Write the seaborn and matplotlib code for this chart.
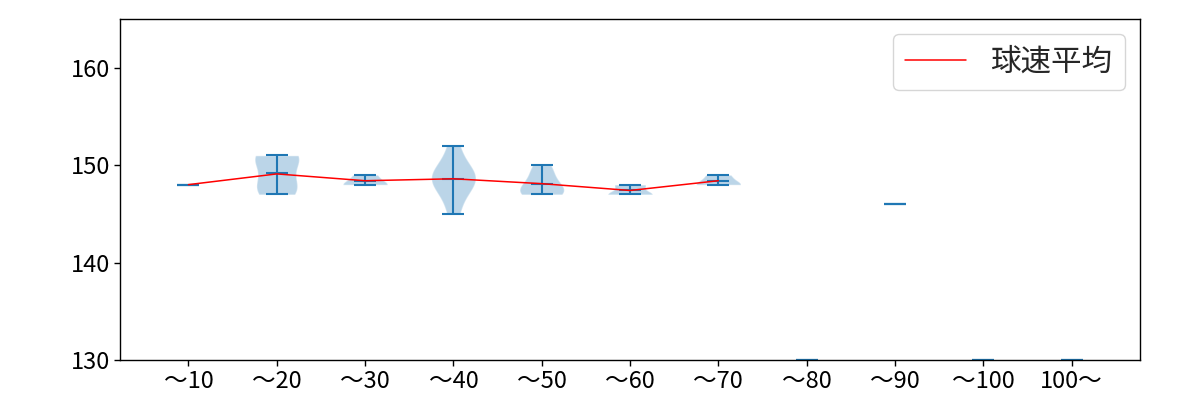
import matplotlib
matplotlib.use("Agg")
import matplotlib.pyplot as plt
import seaborn as sns
import numpy as np
import pandas as pd

labels = ["～10", "～20", "～30", "～40", "～50", "～60", "～70", "～80", "～90", "～100", "100～"]
v10 = [148]
v20 = [147, 147.5, 148.3, 150.5, 151, 151]
v30 = [148, 148, 149]
v40 = [145, 147, 148, 148.5, 149, 149, 150, 152]
v50 = [147, 147, 147.5, 148, 149, 150]
v60 = [147, 147, 147, 148, 148]
v70 = [148, 148, 149]
v80 = [130]
v90 = [146]
v100 = [130]
v100p = [130]
groups = [v10, v20, v30, v40, v50, v60, v70, v80, v90, v100, v100p]
mean_speed = [148.0, 149.1, 148.4, 148.6, 148.1, 147.4, 148.4]

sns.set_style("white")
plt.rcParams['font.family'] = ['Noto Sans CJK JP', 'DejaVu Sans']

fig = plt.figure(figsize=(12, 4), dpi=100)
ax = fig.add_axes([0.1, 0.1, 0.85, 0.8525])
positions = np.arange(1, len(groups) + 1)
ax.violinplot(groups, positions=positions, showmeans=True)
df = pd.DataFrame({"x": positions[:len(mean_speed)], "y": mean_speed})
sns.lineplot(data=df, x="x", y="y", ax=ax, color="red", linewidth=1.1, label="球速平均")
ax.set_xticks(positions)
ax.set_xticklabels(labels)
ax.set_ylim(130, 165)
ax.set_yticks([130, 140, 150, 160])
ax.set_xlabel("")
ax.set_ylabel("")
ax.tick_params(labelsize=17, length=4, width=1, colors="black", left=True, bottom=True, pad=3)
for s in ax.spines.values():
    s.set_color("black")
    s.set_linewidth(1)
ax.legend(loc="upper right", fontsize=22)
fig.savefig("out.png", dpi=100)
